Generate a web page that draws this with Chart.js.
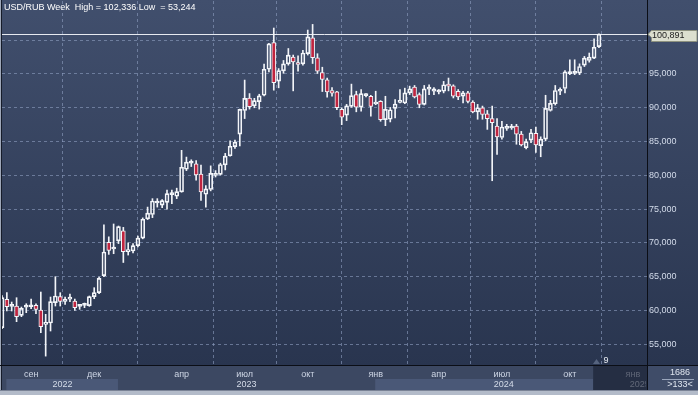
<!DOCTYPE html>
<html>
<head>
<meta charset="utf-8">
<script src="https://cdn.jsdelivr.net/npm/chart.js@4.4.1/dist/chart.umd.min.js"></script>
<style>
  html, body { margin: 0; padding: 0; background: #2c3852; }
  canvas { display: block; }
</style>
</head>
<body>
<canvas id="chart" width="698" height="395"></canvas>
<script>
// weekly USD/RUB candles
const opens = [
  57.45, 61.65, 60.6, 60.66, 59.28, 60.5, 60.55, 60.76, 60.07, 57.95,
  58.14, 61.15, 62.04, 61.35, 61.69, 61.4, 60.6, 60.75, 60.71, 62.04,
  62.63, 65.15, 70.1, 69.1, 70.3, 71.8, 68.7, 68.8, 69.6, 70.7,
  73.55, 74.2, 75.9, 75.6, 76.0, 77.15, 76.9, 77.55, 80.9, 81.8,
  81.7, 80.2, 77.2, 77.9, 80.0, 80.15, 81.55, 82.9, 84.25, 86.1,
  89.6, 91.45, 90.3, 90.9, 91.85, 95.7, 99.65, 93.95, 95.45, 96.5,
  97.5, 96.65, 96.5, 98.0, 100.35, 97.4, 95.2, 94.15, 92.55, 92.35,
  89.75, 88.9, 90.2, 91.95, 90.1, 91.8, 91.7, 90.55, 90.95, 88.25,
  88.3, 89.9, 90.8, 90.7, 92.2, 93.05, 91.95, 90.5, 92.75, 92.45,
  92.35, 92.45, 93.3, 93.25, 92.45, 91.7, 92.2, 90.85, 89.4, 90.0,
  89.1, 88.4, 87.3, 85.6, 86.95, 87.0, 87.3, 86.1, 84.1, 85.2,
  86.2, 84.4, 85.35, 89.6, 90.6, 92.45, 92.85, 95.05, 95.1, 95.15,
  96.3, 97.0, 97.35, 99.05
];
const highs = [
  62.2, 62.63, 61.25, 61.89, 60.51, 61.0, 61.69, 61.0, 62.73, 59.43,
  61.99, 65.0, 62.63, 61.99, 62.43, 61.69, 60.9, 61.1, 62.14, 63.37,
  64.95, 72.68, 70.9, 72.8, 72.5, 72.3, 70.0, 69.9, 71.0, 73.7,
  75.3, 76.55, 76.55, 76.4, 77.8, 77.8, 78.1, 83.7, 82.7, 82.3,
  82.2, 81.5, 78.5, 81.4, 80.7, 81.8, 83.25, 85.1, 85.2, 89.8,
  94.1, 92.1, 91.4, 92.0, 96.45, 99.55, 101.8, 95.8, 97.0, 98.77,
  97.8, 97.7, 98.5, 101.5, 102.336, 98.0, 96.0, 94.4, 93.0, 92.45,
  90.0, 90.5, 93.5, 92.45, 92.7, 92.1, 91.85, 92.45, 91.05, 91.7,
  90.05, 91.2, 92.7, 92.9, 93.2, 93.3, 92.2, 93.3, 93.4, 93.0,
  92.7, 93.9, 94.4, 93.4, 92.7, 92.45, 92.45, 91.05, 90.5, 90.25,
  89.6, 90.25, 88.4, 88.0, 87.55, 87.55, 87.55, 86.5, 85.35, 86.8,
  87.15, 85.7, 91.85, 91.1, 93.3, 92.95, 95.5, 97.1, 97.1, 96.5,
  97.6, 98.1, 100.2, 100.95
];
const lows = [
  57.3, 59.92, 59.92, 58.34, 59.08, 59.67, 60.26, 59.52, 56.71, 53.244,
  56.96, 60.66, 60.66, 60.9, 61.3, 60.02, 60.17, 60.41, 60.61, 61.74,
  62.48, 65.0, 68.3, 68.4, 69.9, 67.1, 68.2, 68.5, 69.4, 70.6,
  73.45, 73.74, 75.3, 75.2, 75.0, 75.8, 76.55, 77.5, 80.7, 81.3,
  79.3, 76.3, 75.3, 77.7, 79.75, 80.05, 80.8, 82.85, 84.0, 84.35,
  88.4, 89.8, 90.0, 89.8, 91.75, 95.3, 92.6, 92.95, 95.1, 96.3,
  92.5, 95.4, 96.3, 97.8, 96.55, 95.07, 92.4, 91.55, 91.7, 89.7,
  87.5, 88.1, 90.07, 89.4, 89.5, 91.6, 88.75, 90.45, 88.0, 87.35,
  87.9, 88.5, 90.7, 90.6, 91.95, 91.45, 90.0, 90.4, 91.95, 91.95,
  92.05, 92.2, 92.5, 91.45, 91.2, 90.7, 90.7, 89.25, 88.3, 88.3,
  86.8, 79.2, 83.1, 85.35, 86.65, 86.8, 84.6, 84.35, 83.9, 84.85,
  83.4, 82.75, 85.1, 89.5, 90.4, 91.95, 92.2, 94.9, 94.9, 94.9,
  96.1, 96.75, 97.25, 98.9
];
const closes = [
  61.9, 60.56, 60.72, 59.08, 60.31, 60.6, 60.65, 60.17, 57.6, 58.2,
  61.3, 62.14, 61.35, 61.69, 61.94, 60.41, 60.7, 60.85, 62.04, 62.63,
  64.75, 68.65, 68.9, 69.3, 72.4, 68.7, 69.0, 69.6, 70.7, 73.5,
  74.4, 76.2, 76.05, 76.25, 77.3, 77.3, 77.6, 81.2, 81.95, 81.9,
  80.05, 77.55, 78.0, 80.3, 80.15, 81.6, 82.85, 84.3, 84.9, 89.75,
  91.4, 90.15, 91.05, 91.75, 95.7, 99.45, 93.7, 95.5, 96.5, 97.8,
  96.8, 96.4, 98.1, 100.5, 97.4, 95.4, 94.2, 92.35, 92.15, 90.0,
  88.6, 90.3, 91.8, 90.1, 92.1, 91.9, 90.2, 90.85, 88.25, 89.75,
  89.7, 90.55, 91.0, 92.2, 92.8, 91.6, 90.5, 92.8, 92.9, 92.8,
  92.5, 93.4, 93.2, 91.7, 91.6, 92.2, 90.95, 89.4, 90.0, 89.0,
  88.4, 87.8, 85.7, 87.15, 87.1, 87.15, 86.1, 84.5, 85.0, 86.3,
  84.5, 85.35, 89.9, 90.65, 92.55, 92.6, 95.3, 95.2, 95.2, 96.1,
  97.35, 97.5, 98.95, 100.891
];

const monthIdx = [6, 19, 37, 50, 63, 77, 90, 103, 117, 130];
const monthLabels = ['сен', 'дек', 'апр', 'июл', 'окт', 'янв', 'апр', 'июл', 'окт', 'янв'];
const yearLabels = ['2022', '2023', '2024', '2025'];
const yearStart = [1, 24, 77, 130];
const yTicks = [55, 60, 65, 70, 75, 80, 85, 90, 95, 100];
const totalSlots = 133;
const cornerNumber = '1686';

const FONT = '"Liberation Sans", Arial, sans-serif';
const gridColor = 'rgba(140,156,190,0.62)';
const fmt = v => v.toFixed(3).replace('.', ',');

const idx = opens.map((_, i) => i);
const up = idx.map(i => closes[i] >= opens[i]);
const bodies = idx.map(i => ({ x: i, y: [Math.min(opens[i], closes[i]), Math.max(opens[i], closes[i])] }));
const upperWicks = idx.map(i => ({ x: i, y: [Math.max(opens[i], closes[i]), highs[i]] }));
const lowerWicks = idx.map(i => ({ x: i, y: [lows[i], Math.min(opens[i], closes[i])] }));
const lastPrice = closes[closes.length - 1];

const chrome = {
  id: 'chrome',
  beforeDraw(chart) {
    const { ctx, chartArea: a, width: W, height: H } = chart;
    const xs = chart.scales.x;
    ctx.save();
    const g = ctx.createLinearGradient(0, 0, 0, a.bottom);
    g.addColorStop(0, '#414f6d');
    g.addColorStop(1, '#29354f');
    ctx.fillStyle = g;
    ctx.fillRect(0, 0, W, a.bottom);
    // axis strip
    ctx.fillStyle = '#3c4862';
    ctx.fillRect(0, a.bottom, a.right, 25);
    ctx.fillStyle = '#3f4c68';
    ctx.fillRect(a.right, a.bottom, W - a.right, 25);
    // year bands
    yearStart.forEach((s, i) => {
      if (i % 2) return;
      const x0 = xs.getPixelForValue(s) - 0.5;
      const x1 = i + 1 < yearStart.length ? xs.getPixelForValue(yearStart[i + 1]) - 0.5 : a.right;
      ctx.fillStyle = '#4a5877';
      ctx.fillRect(x0, 379, Math.min(x1, 593) - x0, 11);
    });
    // frame
    ctx.fillStyle = '#9ea7b8';
    ctx.fillRect(0, 0, 1, H);
    ctx.fillStyle = '#161c2a';
    ctx.fillRect(1, 0, 1, 390);
    ctx.fillStyle = '#b3bbc9';
    ctx.fillRect(0, 390, W, 5);
    ctx.fillStyle = '#7a8396';
    ctx.fillRect(0, 390, W, 1);
    ctx.restore();
  },
  beforeDatasetsDraw(chart) {
    const { ctx, chartArea: a } = chart;
    const y = Math.round(chart.scales.y.getPixelForValue(lastPrice)) + 0.5;
    ctx.save();
    ctx.strokeStyle = '#e6e9f0';
    ctx.lineWidth = 1;
    ctx.beginPath();
    ctx.moveTo(a.left, y);
    ctx.lineTo(a.right, y);
    ctx.stroke();
    ctx.restore();
  },
  afterDraw(chart) {
    const { ctx, chartArea: a, width: W } = chart;
    const xs = chart.scales.x;
    ctx.save();
    ctx.font = '9px ' + FONT;
    ctx.textBaseline = 'middle';

    // title
    ctx.fillStyle = '#ffffff';
    ctx.textAlign = 'left';
    ctx.fillText('USD/RUB Week  High = ' + fmt(Math.max(...highs)) + ' Low  = ' + fmt(Math.min(...lows)), 4, 8);

    // year labels
    ctx.save();
    ctx.beginPath();
    ctx.rect(0, a.bottom, a.right - 1, 25);
    ctx.clip();
    ctx.fillStyle = '#d4dbe8';
    ctx.textAlign = 'center';
    yearStart.forEach((s, i) => {
      const x0 = xs.getPixelForValue(s) - 0.5;
      const x1 = i + 1 < yearStart.length ? xs.getPixelForValue(yearStart[i + 1]) - 0.5 : a.right;
      ctx.fillText(yearLabels[i], (Math.max(x0, 7) + x1) / 2, 385);
    });
    ctx.restore();

    // future zone overlay
    ctx.fillStyle = 'rgba(24,31,48,0.62)';
    ctx.fillRect(593, a.bottom, a.right - 593, 25);
    ctx.fillStyle = '#283248';
    ctx.fillRect(593, a.bottom, 1, 25);
    ctx.fillStyle = '#56647f';
    ctx.beginPath();
    ctx.moveTo(593, 364);
    ctx.lineTo(596.5, 359);
    ctx.lineTo(600, 364);
    ctx.fill();
    ctx.fillStyle = '#e8ecf2';
    ctx.textAlign = 'center';
    ctx.fillText(String(totalSlots - opens.length), 606, 361);

    // separators
    ctx.fillStyle = '#0b0e16';
    ctx.fillRect(a.right, 0, 1, 390);
    ctx.fillRect(0, a.bottom, W, 1);

    // corner box
    ctx.fillStyle = '#dfe5ef';
    ctx.fillText(cornerNumber, 680, 373);
    ctx.fillText('>' + totalSlots + '<', 680, 385);
    ctx.fillStyle = '#9aa6bc';
    ctx.fillRect(662, 379, 32, 1);

    // last price tag
    const yp = Math.round(chart.scales.y.getPixelForValue(lastPrice)) + 0.5;
    ctx.beginPath();
    ctx.moveTo(648, yp);
    ctx.lineTo(651.5, yp - 4);
    ctx.lineTo(697, yp - 4);
    ctx.lineTo(697, yp + 7);
    ctx.lineTo(651.5, yp + 7);
    ctx.lineTo(651.5, yp + 3);
    ctx.closePath();
    ctx.fillStyle = '#dcdfcf';
    ctx.fill();
    ctx.strokeStyle = '#8d917f';
    ctx.lineWidth = 1;
    ctx.stroke();
    ctx.fillStyle = '#1c1c1c';
    ctx.textAlign = 'left';
    ctx.fillText(fmt(lastPrice), 652, yp + 1.5);
    ctx.restore();
  }
};

new Chart(document.getElementById('chart'), {
  type: 'bar',
  data: {
    datasets: [
      { data: lowerWicks, backgroundColor: '#f2f4f8', barThickness: 1, grouped: false, order: 2 },
      { data: upperWicks, backgroundColor: '#f2f4f8', barThickness: 1, grouped: false, order: 2 },
      {
        data: bodies,
        backgroundColor: up.map(u => u ? 'rgba(0,0,0,0)' : '#c0243f'),
        borderColor: '#f4f6fa',
        borderWidth: 1,
        borderSkipped: false,
        barThickness: 4,
        minBarLength: 2,
        grouped: false,
        order: 1
      }
    ]
  },
  options: {
    responsive: false,
    animation: false,
    devicePixelRatio: 1,
    layout: { padding: { left: 2, top: 1, right: 0, bottom: 0 } },
    plugins: { legend: { display: false }, tooltip: { enabled: false } },
    scales: {
      x: {
        type: 'linear',
        min: 0,
        max: 132.9,
        offset: false,
        grid: { color: gridColor, drawTicks: false },
        border: { display: false, dash: [3, 3] },
        afterBuildTicks: s => { s.ticks = monthIdx.map(v => ({ value: v })); },
        afterFit: s => { s.height = 30; s.paddingLeft = 0; s.paddingRight = 0; },
        ticks: {
          autoSkip: false,
          maxRotation: 0,
          padding: 4,
          color: '#cdd5e4',
          font: { family: FONT, size: 9 },
          callback: (v, i) => monthLabels[i]
        }
      },
      y: {
        position: 'right',
        min: 51.93,
        max: 105.8,
        grid: { color: gridColor, drawTicks: false },
        border: { display: false, dash: [3, 3] },
        afterBuildTicks: s => { s.ticks = yTicks.map(v => ({ value: v })); },
        afterFit: s => { s.width = 51; s.paddingTop = 0; s.paddingBottom = 0; },
        ticks: {
          padding: 2,
          color: '#d3dbea',
          font: { family: FONT, size: 9 },
          callback: v => v === 100 ? '' : fmt(v)
        }
      }
    }
  },
  plugins: [chrome]
});
</script>
</body>
</html>
